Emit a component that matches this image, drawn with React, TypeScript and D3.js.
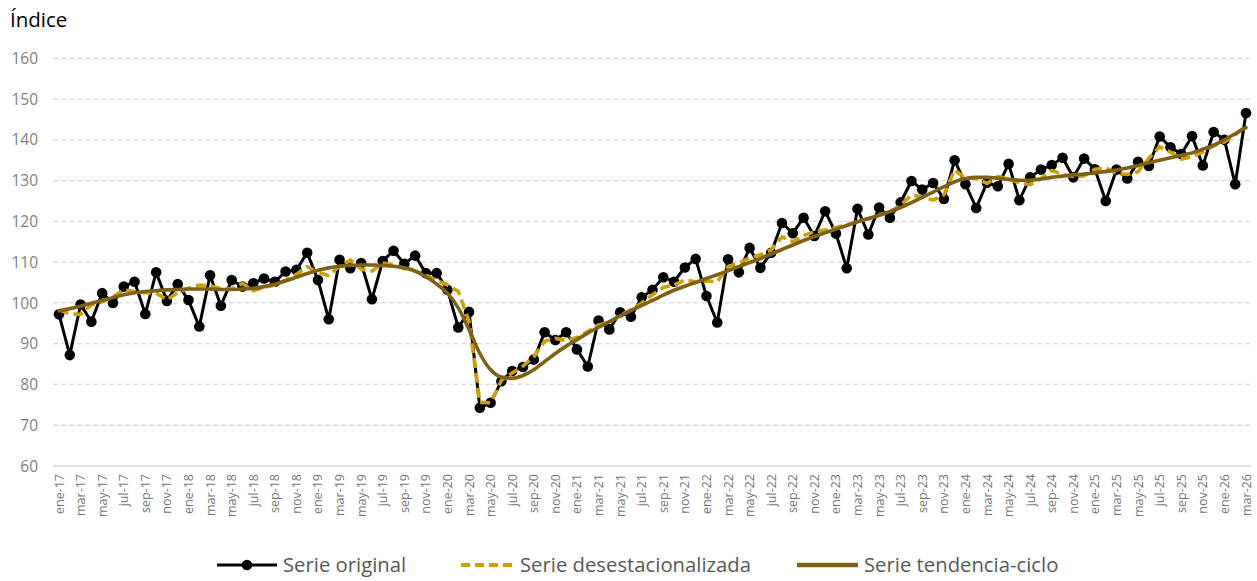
import React from "react";
import * as d3 from "d3";

const tickLabels: string[] = [
  "ene-17","mar-17","may-17","jul-17","sep-17","nov-17",
  "ene-18","mar-18","may-18","jul-18","sep-18","nov-18",
  "ene-19","mar-19","may-19","jul-19","sep-19","nov-19",
  "ene-20","mar-20","may-20","jul-20","sep-20","nov-20",
  "ene-21","mar-21","may-21","jul-21","sep-21","nov-21",
  "ene-22","mar-22","may-22","jul-22","sep-22","nov-22",
  "ene-23","mar-23","may-23","jul-23","sep-23","nov-23",
  "ene-24","mar-24","may-24","jul-24","sep-24","nov-24",
  "ene-25","mar-25","may-25","jul-25","sep-25","nov-25",
  "ene-26","mar-26",
];

const yTicks: number[] = [60, 70, 80, 90, 100, 110, 120, 130, 140, 150, 160];

const serieOriginal: number[] = [
  97.2, 87.2, 99.6, 95.4, 102.4, 100.0, 104.0, 105.2, 97.3, 107.5, 100.5, 104.6,
  100.7, 94.2, 106.8, 99.3, 105.6, 104.0, 104.8, 106.0, 105.2, 107.7, 108.1, 112.3,
  105.6, 96.0, 110.6, 108.5, 109.8, 100.9, 110.3, 112.8, 109.6, 111.6, 107.3, 107.3,
  103.2, 94.0, 97.8, 74.3, 75.5, 80.8, 83.3, 84.3, 86.1, 92.8, 90.9, 92.8,
  88.6, 84.4, 95.7, 93.5, 97.7, 96.6, 101.4, 103.2, 106.3, 105.2, 108.7, 110.8,
  101.7, 95.2, 110.7, 107.5, 113.5, 108.6, 112.3, 119.6, 117.1, 120.9, 116.4, 122.5,
  117.0, 108.5, 123.1, 116.8, 123.4, 120.9, 124.7, 129.9, 127.8, 129.4, 125.5, 135.0,
  129.1, 123.3, 129.5, 128.6, 134.1, 125.2, 130.8, 132.7, 133.8, 135.6, 130.8, 135.4,
  132.8, 125.0, 132.7, 130.5, 134.6, 133.6, 140.8, 138.2, 136.5, 140.9, 133.7, 141.9,
  140.0, 129.1, 146.6,
];

const serieDesestacionalizada: number[] = [
  98.3, 97.3, 97.2, 99.5, 100.3, 101.5, 103.2, 102.8, 102.5, 102.4, 100.8, 102.5,
  103.6, 104.4, 104.2, 103.5, 103.4, 104.8, 103.0, 103.8, 104.4, 105.6, 107.0, 108.9,
  107.5, 106.7, 109.0, 110.5, 108.3, 107.8, 109.8, 109.3, 108.4, 107.8, 106.8, 105.5,
  104.4, 102.8, 95.5, 75.6, 75.5, 81.0, 82.8, 84.5, 86.8, 90.6, 91.3, 90.8,
  91.5, 93.0, 94.6, 95.2, 97.0, 98.3, 100.0, 102.0, 103.8, 104.4, 105.6, 105.2,
  105.4, 105.2, 108.9, 109.8, 111.0, 111.8, 113.0, 116.2, 115.0, 116.5, 117.5, 117.9,
  118.5, 119.1, 120.0, 120.6, 121.5, 122.3, 124.0, 126.5, 126.0, 125.2, 126.5, 132.6,
  130.6, 130.5, 129.3, 131.0, 130.5, 129.4, 129.0, 130.5, 132.5, 131.5, 131.0, 131.2,
  132.8, 133.1, 131.8, 131.5, 132.2, 135.5, 138.3, 137.0, 135.3, 135.8, 137.0, 138.5,
  139.5, 141.2, 143.5,
];

const serieTendencia: number[] = [
  98.1, 98.6, 99.2, 99.9, 100.6, 101.3, 102.0, 102.5, 102.8, 103.0, 103.2, 103.3,
  103.4, 103.4, 103.4, 103.3, 103.3, 103.4, 103.6, 104.0, 104.6, 105.4, 106.3, 107.2,
  108.0, 108.6, 109.0, 109.2, 109.3, 109.3, 109.2, 109.0, 108.6, 107.8, 106.4, 104.6,
  102.4, 98.8, 93.5, 87.6, 83.6, 81.8, 81.5, 82.2, 83.6, 85.6, 87.6, 89.4,
  91.0, 92.6, 94.0, 95.4, 96.8, 98.1, 99.4, 100.6, 101.9, 103.1, 104.1, 105.0,
  106.0, 106.9, 107.9, 108.9, 109.9, 110.9, 112.0, 113.1, 114.2, 115.3, 116.3, 117.2,
  118.1, 119.0, 119.9, 120.7, 121.5, 122.4, 123.4, 124.6, 125.9, 127.2, 128.5, 129.7,
  130.5, 130.8, 130.8, 130.6, 130.3, 130.1, 130.1, 130.4, 130.8, 131.1, 131.4, 131.6,
  131.9, 132.2, 132.6, 133.1, 133.7, 134.4, 135.0, 135.6, 136.2, 136.8, 137.7, 138.7,
  140.0, 141.5, 143.0,
];

const W = 1257;
const H = 581;
const FONT = "'Open Sans', 'DejaVu Sans', sans-serif";
const GOLD = "#cf9f00";
const BROWN = "#7f6116";

export default function App() {
  const n = serieOriginal.length;
  const x = d3.scaleLinear().domain([0, n - 1]).range([59, 1246]);
  const y = d3.scaleLinear().domain([60, 160]).range([466, 58.3]);

  const lineLin = d3
    .line<number>()
    .x((_, i) => x(i))
    .y((d) => y(d));
  const lineSmooth = d3
    .line<number>()
    .x((_, i) => x(i))
    .y((d) => y(d))
    .curve(d3.curveMonotoneX);

  const gridX0 = 53;
  const gridX1 = 1252;

  return (
    <svg
      width={W}
      height={H}
      style={{ position: "absolute", left: 0, top: 0, background: "#fff" }}
      fontFamily={FONT}
    >
      <text x={10} y={27} fontSize={20.5} fill="#000">
        Índice
      </text>

      {yTicks.map((t) => (
        <g key={t}>
          <line
            x1={gridX0}
            x2={gridX1}
            y1={y(t)}
            y2={y(t)}
            stroke="#d9d9d9"
            strokeWidth={1.3}
            strokeDasharray={t === 60 ? undefined : "5,3"}
          />
          <text
            x={38}
            y={y(t)}
            dy="0.36em"
            textAnchor="end"
            fontSize={15.5}
            fill="#7f7f7f"
          >
            {t}
          </text>
        </g>
      ))}

      {tickLabels.map((lab, k) => (
        <text
          key={lab}
          transform={`translate(${x(k * 2)},474) rotate(-90)`}
          textAnchor="end"
          dy="0.36em"
          fontSize={12.5}
          fill="#767676"
        >
          {lab}
        </text>
      ))}

      <path
        d={lineLin(serieOriginal) || ""}
        fill="none"
        stroke="#000"
        strokeWidth={3}
        strokeLinejoin="round"
      />
      {serieOriginal.map((v, i) => (
        <circle key={i} cx={x(i)} cy={y(v)} r={5.3} fill="#000" />
      ))}

      <path
        d={lineLin(serieDesestacionalizada) || ""}
        fill="none"
        stroke={GOLD}
        strokeWidth={3.6}
        strokeDasharray="10,5"
      />

      <path
        d={lineSmooth(serieTendencia) || ""}
        fill="none"
        stroke={BROWN}
        strokeWidth={3.6}
        strokeLinecap="round"
      />

      {/* legend */}
      <g>
        <line x1={217} x2={277} y1={565} y2={565} stroke="#000" strokeWidth={3} />
        <circle cx={247} cy={565} r={5.3} fill="#000" />
        <text x={283} y={565} dy="0.36em" fontSize={20.3} fill="#595959">
          Serie original
        </text>
        <line
          x1={461}
          x2={516}
          y1={565}
          y2={565}
          stroke={GOLD}
          strokeWidth={4}
          strokeDasharray="9,5"
        />
        <text x={520} y={565} dy="0.36em" fontSize={20.3} fill="#595959">
          Serie desestacionalizada
        </text>
        <line x1={797} x2={858} y1={565} y2={565} stroke={BROWN} strokeWidth={4.5} />
        <text x={864} y={565} dy="0.36em" fontSize={20.3} fill="#595959">
          Serie tendencia-ciclo
        </text>
      </g>
    </svg>
  );
}
